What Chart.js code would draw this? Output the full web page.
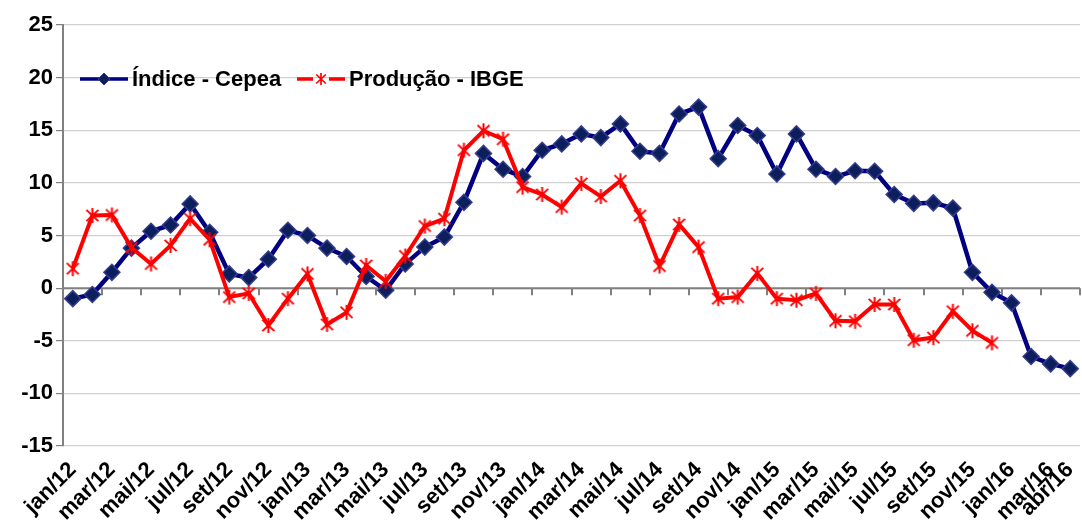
<!DOCTYPE html>
<html>
<head>
<meta charset="utf-8">
<script src="https://cdn.jsdelivr.net/npm/chart.js@4/dist/chart.umd.min.js"></script>
<style>
  body { margin: 0; background: #fff; }
  #wrap { width: 1082px; height: 532px; }
</style>
</head>
<body>
<div id="wrap"><canvas id="chart"></canvas></div>
<script>
// meses e anos do eixo x
var months = ['jan', 'fev', 'mar', 'abr', 'mai', 'jun', 'jul', 'ago', 'set', 'out', 'nov', 'dez'];
var years = ['12', '13', '14', '15', '16'];
var lastLabel = 'abr/16';

// valores (%)
var cepea = [-1.0, -0.6, 1.5, 3.8, 5.4, 6.0, 8.0, 5.3, 1.35, 1.0, 2.75, 5.5,
             5.0, 3.8, 3.0, 1.1, -0.2, 2.3, 3.9, 4.85, 8.15, 12.8, 11.3, 10.6,
             13.1, 13.7, 14.65, 14.3, 15.6, 13.0, 12.8, 16.55, 17.2, 12.3, 15.45, 14.5,
             10.85, 14.65, 11.3, 10.6, 11.15, 11.1, 8.9, 8.05, 8.1, 7.6, 1.5, -0.4,
             -1.4, -6.5, -7.2, -7.65];
var producao = [1.85, 6.9, 6.95, 3.85, 2.3, 4.05, 6.6, 4.6, -0.85, -0.5, -3.55, -1.0,
                1.35, -3.45, -2.3, 2.15, 0.65, 3.05, 5.9, 6.6, 13.1, 14.95, 14.15, 9.6,
                8.9, 7.7, 9.95, 8.7, 10.2, 6.9, 2.1, 6.05, 3.9, -1.0, -0.85, 1.4,
                -1.0, -1.15, -0.5, -3.1, -3.15, -1.55, -1.55, -4.95, -4.7, -2.2, -4.05, -5.2];

var yTicks = [-15, -10, -5, 0, 5, 10, 15, 20, 25];
var seriesNames = ['Índice - Cepea', 'Produção - IBGE'];

var labels = [];
years.forEach(function(y) {
    months.forEach(function(m) {
        if (labels.length && labels[labels.length - 1] === lastLabel) return;
        labels.push(m + '/' + y);
    });
});
var producaoFull = labels.map(function(l, i) { return i < producao.length ? producao[i] : null; });

// marcador "estrela" do Excel (X com traço vertical)
function makeStar(size, color, lw) {
    var c = document.createElement('canvas');
    c.width = size; c.height = size;
    var g = c.getContext('2d');
    var m = size / 2, r = size / 2 - 1;
    g.strokeStyle = color;
    g.lineWidth = lw;
    g.beginPath();
    g.moveTo(m, m - r); g.lineTo(m, m + r);
    g.moveTo(m - r * 0.8, m - r * 0.75); g.lineTo(m + r * 0.8, m + r * 0.75);
    g.moveTo(m + r * 0.8, m - r * 0.75); g.lineTo(m - r * 0.8, m + r * 0.75);
    g.stroke();
    return c;
}
var star = makeStar(17, '#ff0000', 2);
var starSmall = makeStar(14, '#ff0000', 1.7);

var FONT = "'Liberation Sans', Arial, sans-serif";

// eixo do zero com marcas a cada 2 meses
var zeroAxis = {
    id: 'zeroAxis',
    beforeDatasetsDraw: function(chart) {
        var ctx = chart.ctx, a = chart.chartArea;
        var y0 = chart.scales.y.getPixelForValue(0);
        var n = labels.length, w = (a.right - a.left) / n;
        ctx.save();
        ctx.strokeStyle = '#808080';
        ctx.lineWidth = 2;
        ctx.beginPath();
        ctx.moveTo(a.left, y0); ctx.lineTo(a.right, y0);
        for (var i = 2; i <= n; i += 2) {
            var x = Math.round(a.left + i * w);
            ctx.moveTo(x, y0); ctx.lineTo(x, y0 + 7);
        }
        ctx.stroke();
        ctx.restore();
    }
};

// legenda dentro da area do grafico
var legendBox = {
    id: 'legendBox',
    afterDraw: function(chart) {
        var ctx = chart.ctx, a = chart.chartArea;
        var y = a.top + 54;
        var x = a.left + 17;
        ctx.save();
        ctx.font = 'bold 22px ' + FONT;
        ctx.textBaseline = 'middle';
        // Cepea
        ctx.strokeStyle = '#000080';
        ctx.lineWidth = 3.5;
        ctx.beginPath(); ctx.moveTo(x, y); ctx.lineTo(x + 48, y); ctx.stroke();
        ctx.fillStyle = '#0c1f5c';
        ctx.strokeStyle = '#343c8c';
        ctx.lineWidth = 1;
        ctx.beginPath();
        ctx.moveTo(x + 24, y - 6); ctx.lineTo(x + 30, y); ctx.lineTo(x + 24, y + 6); ctx.lineTo(x + 18, y);
        ctx.closePath(); ctx.fill(); ctx.stroke();
        ctx.fillStyle = '#000';
        ctx.fillText(seriesNames[0], x + 52, y + 1);
        // Produção
        var x2 = x + 217;
        ctx.strokeStyle = '#ff0000';
        ctx.lineWidth = 3.5;
        ctx.beginPath();
        ctx.moveTo(x2, y); ctx.lineTo(x2 + 16, y);
        ctx.moveTo(x2 + 32, y); ctx.lineTo(x2 + 48, y);
        ctx.stroke();
        ctx.drawImage(starSmall, x2 + 24 - 7, y - 7);
        ctx.fillStyle = '#000';
        ctx.fillText(seriesNames[1], x2 + 52, y + 1);
        ctx.restore();
    }
};

var ctx = document.getElementById('chart');
new Chart(ctx, {
    type: 'line',
    data: {
        labels: labels,
        datasets: [
            {
                label: seriesNames[1],
                data: producaoFull,
                borderColor: '#ff0000',
                borderWidth: 4,
                pointStyle: star,
                pointRadius: 8,
                tension: 0,
                spanGaps: false,
                order: 0
            },
            {
                label: seriesNames[0],
                data: cepea,
                borderColor: '#000080',
                borderWidth: 4.5,
                pointStyle: 'rectRot',
                pointRadius: 8,
                pointBackgroundColor: '#0c1f5c',
                pointBorderColor: '#343c8c',
                pointBorderWidth: 1.5,
                tension: 0,
                order: 1
            }
        ]
    },
    options: {
        responsive: true,
        maintainAspectRatio: false,
        animation: false,
        layout: { autoPadding: false, padding: { top: 25, right: 2, left: 0, bottom: 0 } },
        plugins: {
            legend: { display: false },
            tooltip: { enabled: false }
        },
        scales: {
            x: {
                type: 'category',
                offset: true,
                grid: { display: false },
                border: { display: false },
                ticks: {
                    autoSkip: false,
                    maxRotation: 45,
                    minRotation: 45,
                    padding: 3,
                    color: '#000',
                    font: { family: FONT, size: 22, weight: 'bold' },
                    callback: function(v, i) {
                        return (i % 2 === 0 || i === labels.length - 1) ? labels[i] : '';
                    }
                },
                afterFit: function(s) {
                    s.height = 86;
                    s.paddingLeft = 0;
                    s.paddingRight = 0;
                }
            },
            y: {
                min: yTicks[0],
                max: yTicks[yTicks.length - 1],
                afterBuildTicks: function(s) {
                    s.ticks = yTicks.map(function(v) { return { value: v }; });
                },
                grid: { color: '#d0d0d0', lineWidth: 1.2, tickLength: 7, tickColor: '#808080' },
                border: { color: '#808080', width: 2 },
                ticks: {
                    color: '#000',
                    padding: 3,
                    font: { family: FONT, size: 22, weight: 'bold' }
                },
                afterFit: function(s) {
                    s.width = 63;
                    s.paddingTop = 0;
                    s.paddingBottom = 0;
                }
            }
        }
    },
    plugins: [zeroAxis, legendBox]
});
</script>
</body>
</html>
